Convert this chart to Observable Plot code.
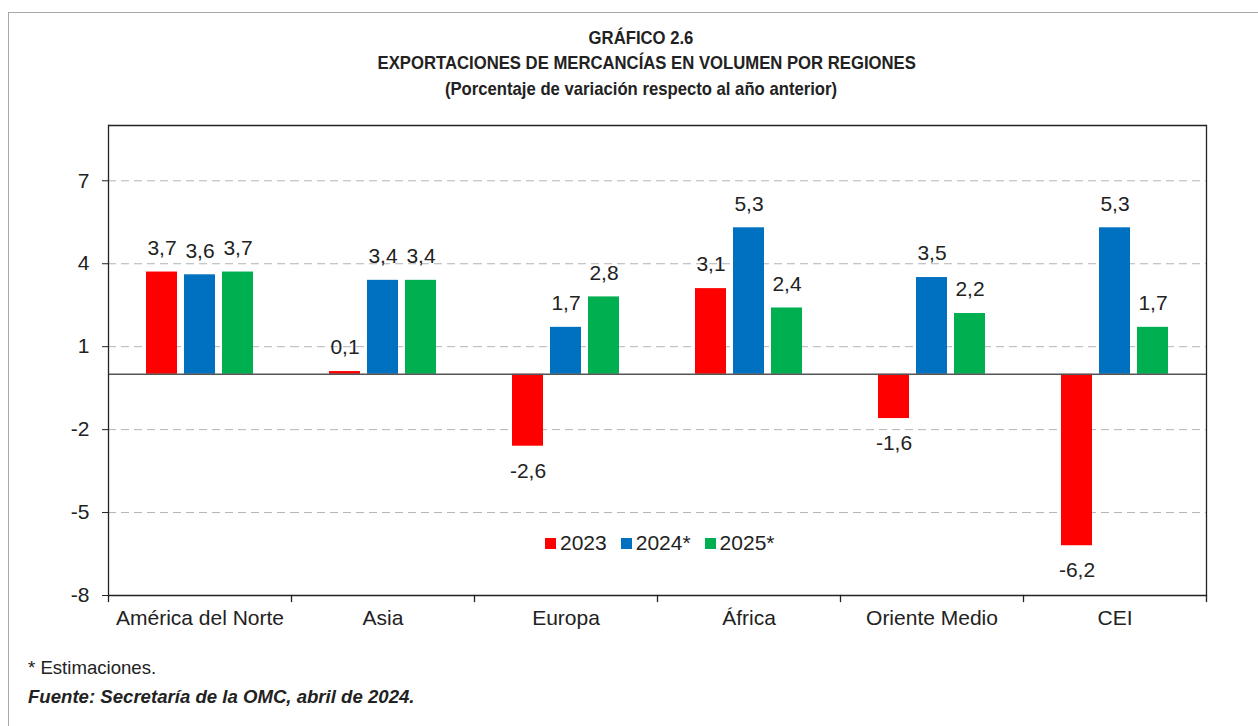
<!DOCTYPE html>
<html>
<head>
<meta charset="utf-8">
<script src="https://cdn.jsdelivr.net/npm/d3@7"></script>
<script src="https://cdn.jsdelivr.net/npm/@observablehq/plot@0.6"></script>
<style>
  html, body { margin: 0; padding: 0; background: #fff; }
  #wrap { position: relative; width: 1258px; height: 726px; overflow: hidden; font-family: "Liberation Sans", Arial, Helvetica, sans-serif; color: #222; }
  #border { position: absolute; left: 8px; top: 12px; right: -10px; bottom: -10px; border-top: 1.5px solid #a8a8a8; border-left: 1.5px solid #a8a8a8; }
  .t { position: absolute; left: 341px; width: 600px; text-align: center; font-weight: bold; font-size: 19px; line-height: 22px; white-space: nowrap; transform: scaleX(0.878); transform-origin: 50% 50%; }
  #chart { position: absolute; left: 0; top: 0; }
  #legend { position: absolute; left: 545px; top: 531px; display: flex; align-items: center; font-size: 21px; line-height: 24px; white-space: nowrap; }
  #legend .sw { display: inline-block; width: 11px; height: 11px; margin-right: 4px; }
  #legend .it { display: flex; align-items: center; margin-right: 14px; }
  .foot { position: absolute; left: 28px; font-size: 18.6px; line-height: 22px; white-space: nowrap; }
</style>
</head>
<body>
<div id="wrap">
  <div id="border"></div>
  <div id="chart"></div>
  <div class="t" style="top:27px">GRÁFICO 2.6</div>
  <div class="t" style="top:52px">EXPORTACIONES DE MERCANCÍAS EN VOLUMEN POR REGIONES</div>
  <div class="t" style="top:78px">(Porcentaje de variación respecto al año anterior)</div>
  <div id="legend"></div>
  <div class="foot" style="top:657px">* Estimaciones.</div>
  <div class="foot" style="top:686px; font-weight:bold; font-style:italic">Fuente: Secretaría de la OMC, abril de 2024.</div>
</div>
<script>
const regions = ["América del Norte", "Asia", "Europa", "África", "Oriente Medio", "CEI"];
const years = ["2023", "2024*", "2025*"];
const v2023 = [3.7, 0.1, -2.6, 3.1, -1.6, -6.2];
const v2024 = [3.6, 3.4, 1.7, 5.3, 3.5, 5.3];
const v2025 = [3.7, 3.4, 2.8, 2.4, 2.2, 1.7];
const colors = ["#ff0000", "#0070c0", "#00b050"];
const yTicks = [-8, -5, -2, 1, 4, 7];
const gridTicks = [-5, -2, 1, 4, 7];

const series = [v2023, v2024, v2025];
const rows = regions.flatMap((r, i) => years.map((y, j) => ({region: r, year: y, value: series[j][i]})));
const fmt = d => d.value.toFixed(1).replace(".", ",");

const chart = Plot.plot({
  width: 1258,
  height: 726,
  marginTop: 125,
  marginBottom: 131,
  marginLeft: 106,
  marginRight: 51,
  style: {fontFamily: "'Liberation Sans', Arial, Helvetica, sans-serif", fontSize: "21px", color: "#222", background: "transparent"},
  fx: {domain: regions, padding: 0, label: null},
  x: {domain: years, paddingInner: 0.175, paddingOuter: 0.99, axis: null},
  y: {domain: [-8, 9], axis: null},
  color: {domain: years, range: colors},
  marks: [
    Plot.gridY(gridTicks, {stroke: "#b4b4b4", strokeOpacity: 1, strokeDasharray: "8,5", strokeWidth: 1}),
    Plot.barY(rows, {fx: "region", x: "year", y: "value", fill: "year"}),
    Plot.ruleY([0], {stroke: "#555", strokeWidth: 1.5}),
    Plot.ruleY([9], {stroke: "#222", strokeWidth: 1.3}),
    Plot.ruleY([-8], {stroke: "#222", strokeWidth: 1.3}),
    Plot.frame({anchor: "left", facetAnchor: "left", stroke: "#222", strokeWidth: 1.3}),
    Plot.frame({anchor: "right", facetAnchor: "right", stroke: "#222", strokeWidth: 1.3}),
    Plot.frame({anchor: "left", insetTop: 470, insetBottom: -6, stroke: "#222", strokeWidth: 1.3}),
    Plot.frame({anchor: "right", facetAnchor: "right", insetTop: 470, insetBottom: -6, stroke: "#222", strokeWidth: 1.3}),
    Plot.axisY({ticks: yTicks, tickSize: 6, tickPadding: 13, tickFormat: d => String(d), label: null, fontSize: 21, stroke: "#222"}),
    Plot.axisFx({anchor: "bottom", tickSize: 0, tickPadding: 15, label: null, fontSize: 21}),
    Plot.text(rows.filter(d => d.value >= 0), {fx: "region", x: "year", y: "value", text: fmt, dy: -24, fontSize: 21, fill: "#222", lineAnchor: "middle"}),
    Plot.text(rows.filter(d => d.value < 0), {fx: "region", x: "year", y: "value", text: fmt, dy: 25, fontSize: 21, fill: "#222", lineAnchor: "middle"})
  ]
});
document.getElementById("chart").appendChild(chart);

const legend = document.getElementById("legend");
years.forEach((y, i) => {
  const it = document.createElement("span");
  it.className = "it";
  const sw = document.createElement("span");
  sw.className = "sw";
  sw.style.background = colors[i];
  it.appendChild(sw);
  it.appendChild(document.createTextNode(y));
  legend.appendChild(it);
});
</script>
</body>
</html>
